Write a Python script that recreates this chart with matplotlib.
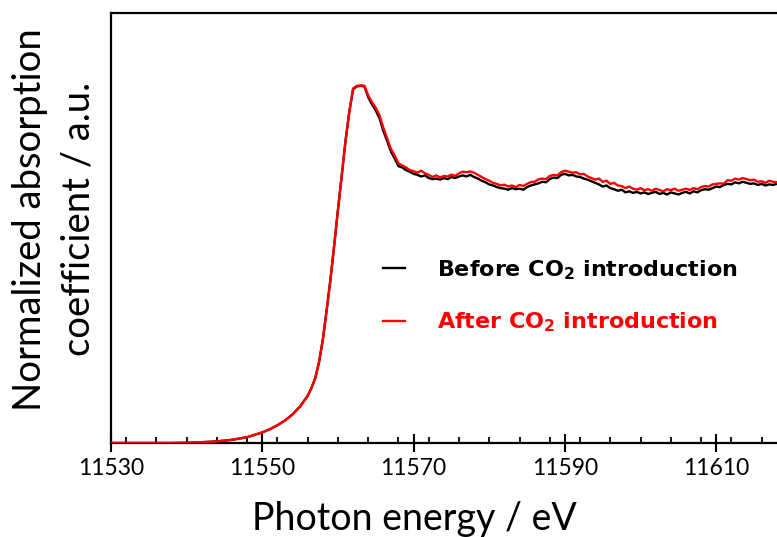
import numpy as np
import matplotlib
matplotlib.use("Agg")
import matplotlib.pyplot as plt
from matplotlib.lines import Line2D
from matplotlib.ticker import MultipleLocator

# ---- XANES spectra (normalized absorption) ----
# rising-edge region, shared energy grid for both spectra
energy_edge = [11530, 11534, 11538, 11540, 11542, 11544, 11546, 11548, 11550,
               11551, 11552, 11553, 11554, 11555, 11556, 11556.5, 11557, 11557.5,
               11558, 11558.5, 11559, 11559.5, 11560, 11560.5, 11561, 11561.5,
               11562, 11562.5, 11563, 11563.5, 11564, 11564.5, 11565, 11565.5,
               11566, 11566.5, 11567, 11567.5]

before_edge = [0.0, 0.0, 0.0, 0.001, 0.003, 0.006, 0.012, 0.022, 0.040,
               0.052, 0.067, 0.085, 0.108, 0.138, 0.178, 0.208, 0.245, 0.305,
               0.390, 0.500, 0.615, 0.745, 0.880, 1.010, 1.140, 1.250,
               1.335, 1.346, 1.348, 1.346, 1.305, 1.278, 1.255, 1.225,
               1.178, 1.140, 1.100, 1.074]

after_edge = [0.0, 0.0, 0.0, 0.001, 0.003, 0.006, 0.012, 0.022, 0.040,
              0.052, 0.067, 0.085, 0.108, 0.138, 0.178, 0.208, 0.245, 0.305,
              0.390, 0.500, 0.615, 0.745, 0.880, 1.010, 1.140, 1.250,
              1.338, 1.348, 1.350, 1.348, 1.312, 1.286, 1.265, 1.236,
              1.190, 1.150, 1.110, 1.085]

# post-edge region, 0.5 eV steps from 11568 to 11622 eV
energy_post = np.arange(11568.0, 11622.01, 0.5)

before_post = [
    1.045, 1.040, 1.030, 1.024, 1.016, 1.012, 1.006, 1.010, 1.000, 0.996,
    0.998, 0.994, 1.000, 0.996, 1.004, 1.000, 1.006, 1.010, 1.006, 1.012,
    1.004, 0.998, 0.990, 0.984, 0.976, 0.972, 0.966, 0.962, 0.960, 0.956,
    0.962, 0.958, 0.960, 0.956, 0.966, 0.972, 0.976, 0.980, 0.986, 0.984,
    0.996, 1.002, 1.000, 1.012, 1.016, 1.010, 1.012, 1.006, 1.004, 0.998,
    0.994, 0.988, 0.982, 0.976, 0.968, 0.972, 0.962, 0.958, 0.952, 0.956,
    0.946, 0.950, 0.944, 0.948, 0.942, 0.946, 0.940, 0.944, 0.948, 0.940,
    0.944, 0.938, 0.946, 0.942, 0.938, 0.944, 0.948, 0.942, 0.950, 0.946,
    0.954, 0.958, 0.956, 0.962, 0.968, 0.966, 0.974, 0.978, 0.976, 0.984,
    0.980, 0.986, 0.982, 0.978, 0.980, 0.974, 0.978, 0.972, 0.976, 0.974,
    0.978, 0.976, 0.972, 0.976, 0.974, 0.978, 0.975, 0.972, 0.976]

after_post = [
    1.055, 1.048, 1.040, 1.030, 1.026, 1.020, 1.028, 1.018, 1.012, 1.004,
    1.010, 1.002, 1.008, 1.006, 1.013, 1.008, 1.018, 1.024, 1.022, 1.025,
    1.020, 1.012, 1.004, 0.996, 0.990, 0.982, 0.978, 0.972, 0.975, 0.968,
    0.972, 0.966, 0.974, 0.970, 0.978, 0.985, 0.986, 0.995, 0.998, 0.996,
    1.008, 1.012, 1.010, 1.022, 1.028, 1.024, 1.020, 1.022, 1.014, 1.016,
    1.006, 1.000, 0.994, 0.998, 0.986, 0.990, 0.978, 0.982, 0.972, 0.970,
    0.962, 0.968, 0.960, 0.956, 0.962, 0.954, 0.958, 0.952, 0.960, 0.955,
    0.950, 0.958, 0.954, 0.960, 0.952, 0.956, 0.960, 0.955, 0.962, 0.958,
    0.966, 0.970, 0.968, 0.976, 0.978, 0.980, 0.979, 0.992, 0.990, 0.998,
    0.994, 1.000, 0.996, 0.992, 0.994, 0.986, 0.988, 0.982, 0.990, 0.986,
    0.984, 0.990, 0.986, 0.982, 0.988, 0.984, 0.986, 0.983, 0.985]

energy = np.concatenate([energy_edge, energy_post])
before = np.concatenate([before_edge, before_post])
after = np.concatenate([after_edge, after_post])

x_ticks = [11530, 11550, 11570, 11590, 11610]
series_labels = ["Before CO$_2$ introduction", "After CO$_2$ introduction"]
series_colors = ["black", "#ff0000"]

plt.rcParams["font.family"] = ["Lato", "DejaVu Sans"]
plt.rcParams["mathtext.default"] = "regular"

fig = plt.figure(figsize=(7.77, 5.37), dpi=100)
W, H = 777, 537
# axes runs past the right edge of the canvas
ax = fig.add_axes([111 / W, 94 / H, 696 / W, 430 / H])

ax.plot(energy, before, color=series_colors[0], lw=1.7, zorder=3)
ax.plot(energy, after, color=series_colors[1], lw=1.7, zorder=4)

ax.set_xlim(11530, 11622)
ax.set_ylim(0, 1.623)
ax.set_xticks(x_ticks)
ax.set_xticklabels([str(t) for t in x_ticks])
ax.xaxis.set_minor_locator(MultipleLocator(4))
ax.tick_params(axis="x", which="major", direction="inout", length=13,
               width=1.5, labelsize=16.5, pad=4, colors="black")
ax.tick_params(axis="x", which="minor", direction="in", length=4, width=1.3)
ax.set_yticks([])
for s in ax.spines.values():
    s.set_linewidth(1.6)

ax.set_xlabel("Photon energy / eV", fontsize=27)
ax.xaxis.set_label_coords((414 - 111) / 696, -0.135)
ax.set_ylabel("Normalized absorption\ncoefficient / a.u.", fontsize=27.5,
              linespacing=1.42)
ax.yaxis.set_label_coords(-0.021, 0.52)

handles = [Line2D([], [], color=c, lw=1.7) for c in series_colors]
ax.legend(handles, series_labels, loc="center left",
          bbox_to_anchor=(383 / W, (H - 296) / H), bbox_transform=fig.transFigure,
          frameon=False, borderpad=0, borderaxespad=0, handlelength=1.0,
          handletextpad=1.45, labelspacing=1.3,
          prop={"family": "DejaVu Sans", "weight": "bold", "size": 16},
          labelcolor=series_colors)

fig.savefig("out.png", dpi=100)
